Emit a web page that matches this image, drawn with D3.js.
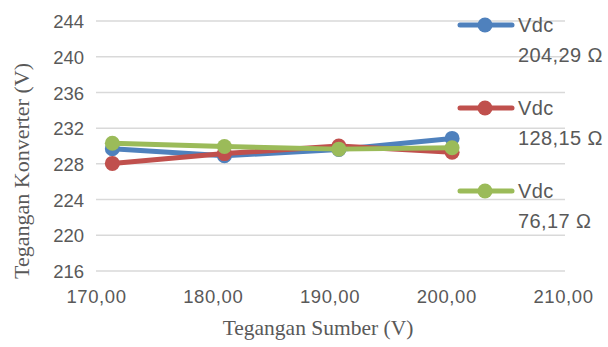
<!DOCTYPE html>
<html>
<head>
<meta charset="utf-8">
<script src="https://cdn.jsdelivr.net/npm/d3@7/dist/d3.min.js"></script>
<style>
  html, body { margin: 0; padding: 0; background: #fff; }
  svg { display: block; }
</style>
</head>
<body>
<svg id="chart" width="608" height="347"></svg>
<script>
// Source voltage (V) at each measurement
const sourceVoltage = [171.4, 181.0, 190.8, 200.5];

// Converter output voltage (V) for each load
const vdc20429 = [229.7, 228.9, 229.6, 230.85];
const vdc12815 = [228.05, 229.15, 230.0, 229.3];
const vdc7617  = [230.3, 229.95, 229.65, 229.8];

const seriesNames = ["Vdc\n204,29 Ω", "Vdc\n128,15 Ω", "Vdc\n76,17 Ω"];
const seriesColors = ["#4F81BD", "#C0504D", "#9BBB59"];

const xTicks = [170, 180, 190, 200, 210];
const yTicks = [216, 220, 224, 228, 232, 236, 240, 244];

const xTitle = "Tegangan Sumber (V)";
const yTitle = "Tegangan Konverter (V)";

const series = [vdc20429, vdc12815, vdc7617].map((vals, i) => ({
  name: seriesNames[i],
  color: seriesColors[i],
  points: vals.map((v, j) => ({ x: sourceVoltage[j], y: v }))
}));

const svg = d3.select("#chart");
const fmt = d => d3.format(".2f")(d).replace(".", ",");

const x = d3.scaleLinear().domain([170, 210]).range([96, 563]);
const y = d3.scaleLinear().domain([216, 244]).range([271, 21]);

// horizontal gridlines
svg.append("g")
  .selectAll("line")
  .data(yTicks)
  .join("line")
  .attr("x1", 96).attr("x2", 565)
  .attr("y1", d => y(d)).attr("y2", d => y(d))
  .attr("stroke", "#d9d9d9").attr("stroke-width", 1.5);

// y axis labels
const yAxis = svg.append("g")
  .attr("transform", "translate(84,0)")
  .call(d3.axisLeft(y).tickValues(yTicks).tickSize(0).tickPadding(0));
yAxis.select(".domain").remove();
yAxis.selectAll("text")
  .attr("font-family", "Liberation Sans, Arial, sans-serif")
  .attr("font-size", 18.5)
  .attr("fill", "#595959")
  .attr("dy", "0.36em");

// x axis labels
const xAxis = svg.append("g")
  .attr("transform", "translate(0,290)")
  .call(d3.axisBottom(x).tickValues(xTicks).tickFormat(fmt).tickSize(0).tickPadding(0));
xAxis.select(".domain").remove();
xAxis.selectAll("text")
  .attr("font-family", "Liberation Sans, Arial, sans-serif")
  .attr("font-size", 18.5)
  .attr("letter-spacing", 0.6)
  .attr("fill", "#595959");

// axis titles
svg.append("text")
  .attr("x", 318).attr("y", 335)
  .attr("text-anchor", "middle")
  .attr("font-family", "Liberation Serif, Times New Roman, serif")
  .attr("font-size", 21.5)
  .attr("fill", "#595959")
  .text(xTitle);

svg.append("text")
  .attr("transform", "translate(29,171) rotate(-90)")
  .attr("text-anchor", "middle")
  .attr("font-family", "Liberation Serif, Times New Roman, serif")
  .attr("font-size", 22)
  .attr("fill", "#595959")
  .text(yTitle);

// series lines and markers
const line = d3.line().x(d => x(d.x)).y(d => y(d.y));
const g = svg.append("g");
series.forEach(s => {
  const sg = g.append("g");
  sg.append("path")
    .datum(s.points)
    .attr("d", line)
    .attr("fill", "none")
    .attr("stroke", s.color)
    .attr("stroke-width", 5)
    .attr("stroke-linejoin", "round")
    .attr("stroke-linecap", "round");
  sg.selectAll("circle")
    .data(s.points)
    .join("circle")
    .attr("cx", d => x(d.x))
    .attr("cy", d => y(d.y))
    .attr("r", 7.5)
    .attr("fill", s.color);
});

// legend
const legendY = [25, 108, 191];
const lg = svg.append("g");
series.forEach((s, i) => {
  const row = lg.append("g").attr("transform", `translate(0,${legendY[i]})`);
  row.append("line")
    .attr("x1", 460).attr("x2", 512)
    .attr("y1", 0).attr("y2", 0)
    .attr("stroke", s.color).attr("stroke-width", 5)
    .attr("stroke-linecap", "round");
  row.append("circle").attr("cx", 485).attr("cy", 0).attr("r", 7.5).attr("fill", s.color);
  const lines = s.name.split("\n");
  const t = row.append("text")
    .attr("font-family", "Liberation Sans, Arial, sans-serif")
    .attr("font-size", 20)
    .attr("letter-spacing", 0.4)
    .attr("fill", "#595959");
  lines.forEach((l, k) => {
    t.append("tspan")
      .attr("x", 518)
      .attr("y", k * 30)
      .attr("dy", "0.36em")
      .text(l);
  });
});
</script>
</body>
</html>
